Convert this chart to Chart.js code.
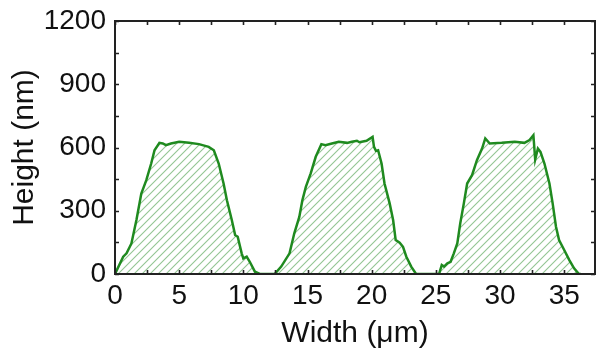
<!DOCTYPE html>
<html>
<head>
<meta charset="utf-8">
<script src="https://cdn.jsdelivr.net/npm/chart.js@4.4.1/dist/chart.umd.min.js"></script>
<style>
  html, body { margin: 0; padding: 0; background: #fff; }
  #wrap { width: 596px; height: 360px; }
</style>
</head>
<body>
<div id="wrap"><canvas id="profileChart"></canvas></div>
<script>
// profile: width in um, height in nm
const widths = [
    0, 0.64, 0.9, 1.28, 1.67, 2.05, 2.44, 2.82, 3.08, 3.46, 3.72, 3.97, 4.36, 5.0, 5.77, 6.54,
    7.3, 7.7, 8.08, 8.46, 8.72, 9.1, 9.36, 9.56, 9.87, 10.0, 10.26, 10.5, 10.9, 11.28, 11.9,
    12.44, 12.95, 13.6, 13.97, 14.36, 14.6, 14.87, 15.25, 15.64, 16.08, 16.4, 16.9, 17.44, 18.08,
    18.46, 18.85, 19.05, 19.6, 20.07, 20.18, 20.33, 20.5, 20.77, 21.0, 21.4, 21.67, 21.87, 22.18,
    22.44, 22.7, 23.08, 23.46, 24.4,
    25.25, 25.46, 25.64, 25.9, 26.15, 26.4, 26.67, 26.9, 27.18, 27.44, 27.82, 28.2, 28.6, 28.85,
    29.2, 30.13, 31.15, 31.9, 32.3, 32.6, 32.74, 32.95, 33.15, 33.46, 33.85, 34.1, 34.36, 34.6,
    35.0, 35.4, 35.77, 36.15, 36.3
];
const heights = [
    0, 82, 98, 145, 256, 382, 445, 524, 587, 622, 619, 611, 619, 627, 622, 616,
    603, 587, 524, 429, 350, 256, 185, 177, 98, 74, 82, 58, 11, 0, 0,
    0, 35, 98, 193, 271, 350, 413, 477, 556, 616, 611, 619, 627, 622,
    627, 632, 625, 632, 650, 603, 584, 587, 524, 429, 335, 256, 161, 148,
    129, 82, 35, 0, 0,
    0, 43, 35, 51, 58, 98, 145, 240, 335, 429, 469, 540, 595, 643,
    619, 622, 627, 622, 635, 658, 543, 595, 579, 524, 429, 335, 224, 161,
    114, 66, 27, 0, 0
];
const xTicks = [0, 5, 10, 15, 20, 25, 30, 35];
const yTicks = [0, 300, 600, 900, 1200];

// diagonal hatch for the area under the profile
function hatchPattern() {
    const c = document.createElement('canvas');
    c.width = 8; c.height = 8;
    const g = c.getContext('2d');
    g.fillStyle = '#ffffff';
    g.fillRect(0, 0, 8, 8);
    g.strokeStyle = 'rgba(120, 182, 120, 0.8)';
    g.lineWidth = 1.1;
    g.beginPath();
    g.moveTo(-1, 9); g.lineTo(9, -1);
    g.moveTo(-1, 1); g.lineTo(1, -1);
    g.moveTo(7, 9); g.lineTo(9, 7);
    g.stroke();
    return g.createPattern(c, 'repeat');
}

// box around the plot with inward ticks, a minor one between each pair of labels
const boxTicks = {
    id: 'boxTicks',
    afterDatasetsDraw(chart) {
        const { ctx, chartArea: a, scales: { x, y } } = chart;
        const len = 4;
        const xStep = (xTicks[1] - xTicks[0]) / 2;
        const yStep = (yTicks[1] - yTicks[0]) / 2;
        ctx.save();
        ctx.strokeStyle = '#222';
        ctx.lineWidth = 1.6;
        ctx.beginPath();
        for (let v = 0; v <= x.max; v += xStep) {
            const px = Math.round(x.getPixelForValue(v)) + 0.5;
            ctx.moveTo(px, a.bottom); ctx.lineTo(px, a.bottom - len);
            ctx.moveTo(px, a.top); ctx.lineTo(px, a.top + len);
        }
        for (let v = 0; v <= y.max; v += yStep) {
            const py = Math.round(y.getPixelForValue(v)) + 0.5;
            ctx.moveTo(a.left, py); ctx.lineTo(a.left + len, py);
            ctx.moveTo(a.right, py); ctx.lineTo(a.right - len, py);
        }
        ctx.stroke();
        ctx.lineWidth = 2;
        ctx.strokeRect(a.left, a.top, a.right - a.left, a.bottom - a.top);
        ctx.restore();
    }
};

const tickFont = { family: '"Liberation Sans", Arial, sans-serif', size: 28 };
const titleFont = { family: '"Liberation Sans", Arial, sans-serif', size: 30 };

const ctx = document.getElementById('profileChart').getContext('2d');
const profileChart = new Chart(ctx, {
    type: 'line',
    data: {
        datasets: [{
            label: 'Profile',
            data: widths.map((w, i) => ({ x: w, y: heights[i] })),
            borderColor: '#1f8a1f',
            borderWidth: 2.5,
            backgroundColor: hatchPattern(),
            fill: 'origin',
            pointRadius: 0,
            tension: 0
        }]
    },
    options: {
        responsive: true,
        maintainAspectRatio: false,
        animation: false,
        layout: { padding: { top: 21, right: 1, left: 0, bottom: 0 } },
        plugins: {
            legend: { display: false },
            tooltip: { enabled: false }
        },
        scales: {
            x: {
                type: 'linear',
                min: 0,
                max: 37.4,
                grid: { display: false, drawTicks: false },
                border: { display: false },
                ticks: { font: tickFont, color: '#111', padding: 5, maxRotation: 0, autoSkip: false, callback: v => String(v) },
                afterBuildTicks: s => { s.ticks = xTicks.map(v => ({ value: v })); },
                afterFit: s => { s.height = 86; s.paddingLeft = 0; s.paddingRight = 0; },
                title: { display: true, text: 'Width (μm)', font: titleFont, color: '#111', padding: 8 }
            },
            y: {
                min: 0,
                max: 1200,
                grid: { display: false, drawTicks: false },
                border: { display: false },
                ticks: { font: tickFont, color: '#111', padding: 9, autoSkip: false, callback: v => String(v) },
                afterBuildTicks: s => { s.ticks = yTicks.map(v => ({ value: v })); },
                afterFit: s => { s.width = 115; s.paddingTop = 0; s.paddingBottom = 0; },
                title: { display: true, text: 'Height (nm)', font: titleFont, color: '#111', padding: 7 }
            }
        }
    },
    plugins: [boxTicks]
});
</script>
</body>
</html>
